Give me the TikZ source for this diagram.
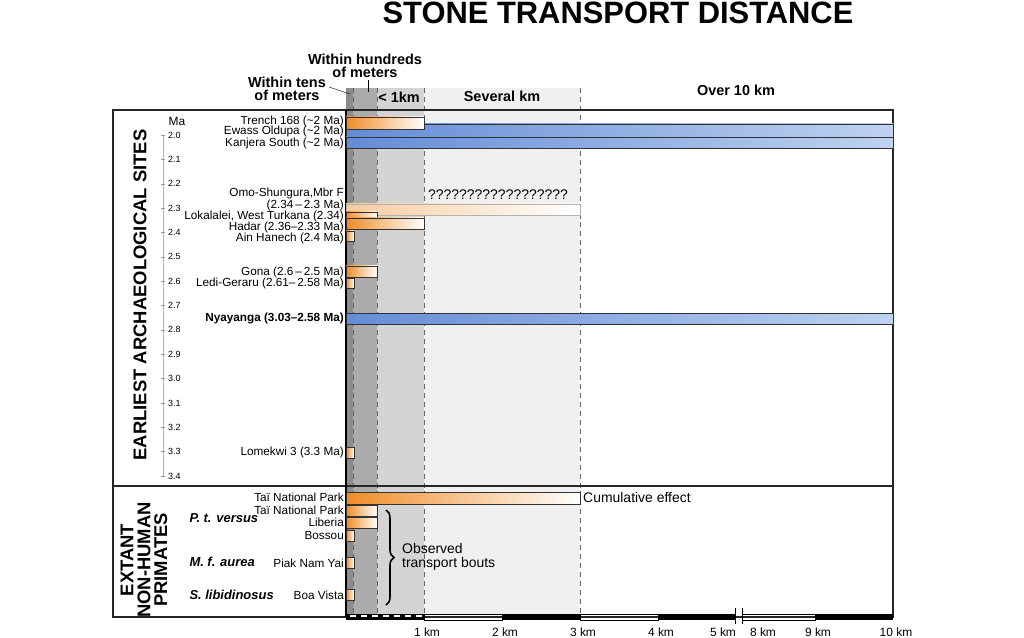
\documentclass[tikz,border=0pt]{standalone}
\usepackage{fontspec}
\setmainfont{Liberation Sans}
\usetikzlibrary{decorations.pathreplacing}
\definecolor{og}{RGB}{240,140,40}
\definecolor{bl}{RGB}{100,140,215}
\definecolor{bll}{RGB}{190,210,240}
\tikzset{lbl/.style={anchor=east,inner sep=1pt,font=\fontsize{11.8}{12}\selectfont},
obar/.style={draw=black!80,line width=0.6pt,left color=og,right color=white},
bbar/.style={draw=black!80,line width=0.6pt,left color=bl,right color=bll},
hdr/.style={font=\bfseries\fontsize{14.5}{13}\selectfont,align=center,inner sep=0pt},
tk/.style={font=\fontsize{9}{9}\selectfont,anchor=west,inner sep=1pt},
dl/.style={dashed,black!60,dash pattern=on 5pt off 4pt}}
\begin{document}
\begin{tikzpicture}[x=1bp,y=-1bp]
\useasboundingbox (0,0) rectangle (1024,638);
% zones
\fill[black!6] (424,88) rectangle (580,614);
\fill[black!17] (377,88) rectangle (424,614);
\fill[black!33] (346,88) rectangle (377,614);
\fill[black!45] (346,88) rectangle (353,614);
\foreach \x in {353,377,424,580} \draw[dl] (\x,88) -- (\x,614);
% frame
\draw[line width=1.2pt,black!85] (113,110) -- (893,110) -- (893,617) -- (113,617) -- cycle;
\draw[line width=1.2pt,black!85] (113,486) -- (893,486);
\draw[line width=1.2pt] (346,110) -- (346,617);
% title and headers
\node[font=\bfseries\fontsize{31}{31}\selectfont] (title) at (618,13) {STONE TRANSPORT DISTANCE};
\node[hdr,anchor=east] (tens) at (326,89) {Within tens\\of meters};
\node[hdr] (hund) at (365,66) {Within hundreds\\of meters};
\coordinate (t1) at (350,94); \coordinate (h1) at (368,92);
\draw (tens.east) ++(3,-2) -- (t1);
\draw (hund.south) ++(3,2) -- (h1);
\node[hdr] (k1) at (399,97) {< 1km};
\node[hdr] (sk) at (502,96) {Several km};
\node[hdr] (ok) at (736,90) {Over 10 km};
% Ma axis
\draw[black!30] (163,135) -- (163,476);
\node[font=\fontsize{12}{12}\selectfont] (ma) at (177,121) {Ma};
\foreach \lab [count=\i from 0] in {2.0,2.1,2.2,2.3,2.4,2.5,2.6,2.7,2.8,2.9,3.0,3.1,3.2,3.3,3.4}{
 \pgfmathsetmacro\yy{135+24.36*\i}
 \draw[black!40] (161,\yy) -- (165,\yy);
 \node[tk] at (167,\yy) {\lab};}
\node[rotate=90,font=\bfseries\fontsize{18.5}{18}\selectfont] (eas) at (140,295) {EARLIEST ARCHAEOLOGICAL SITES};
\node[rotate=90,font=\bfseries\fontsize{18.5}{17}\selectfont,align=center] (enh) at (144,560) {EXTANT\\NON-HUMAN\\PRIMATES};
% bars
\draw[bbar] (346,124) rectangle (893,136);
\draw[bbar] (346,137) rectangle (893,148);
\draw[obar] (346,117) rectangle (424,129);
\draw[draw=black!30,left color=og!45,right color=white] (346,204) rectangle (580,215);
\draw[obar] (346,212) rectangle (377,222);
\draw[obar] (346,218) rectangle (424,229);
\draw[obar] (346,231) rectangle (354,241);
\draw[obar] (346,266) rectangle (377,277);
\draw[obar] (346,278) rectangle (354,288);
\draw[bbar] (346,313) rectangle (893,324);
\draw[obar] (346,447) rectangle (354,458);
\draw[obar] (346,492) rectangle (580,504);
\draw[obar] (346,505) rectangle (377,516);
\draw[obar] (346,517) rectangle (377,528);
\draw[obar] (346,530) rectangle (354,541);
\draw[obar] (346,557) rectangle (354,568);
\draw[obar] (346,589) rectangle (354,600);
% labels
\node[lbl] (l1) at (345,121) {Trench 168 (\textasciitilde2 Ma)};
\node[lbl] (l2) at (345,131) {Ewass Oldupa (\textasciitilde2 Ma)};
\node[lbl] (l3) at (345,143) {Kanjera South (\textasciitilde2 Ma)};
\node[lbl] (l4) at (345,193) {Omo-Shungura,Mbr F};
\node[lbl] (l5) at (345,205) {(2.34\,–\,2.3 Ma)};
\node[lbl] (l6) at (345,216) {Lokalalei, West Turkana (2.34)};
\node[lbl] (l7) at (345,227) {Hadar (2.36–2.33 Ma)};
\node[lbl] (l8) at (345,238) {Ain Hanech (2.4 Ma)};
\node[lbl] (l9) at (345,272) {Gona (2.6\,–\,2.5 Ma)};
\node[lbl] (l10) at (345,283) {Ledi-Geraru (2.61–\,2.58 Ma)};
\node[lbl,font=\bfseries\fontsize{11.8}{12}\selectfont] (l11) at (345,318) {Nyayanga (3.03–2.58 Ma)};
\node[lbl] (l12) at (345,452) {Lomekwi 3 (3.3 Ma)};
\node[font=\fontsize{14}{14}\selectfont,anchor=west,inner sep=0pt] (qq) at (428,195) {??????????????????};
\node[lbl] (p1) at (345,497) {Taï National Park};
\node[lbl] (p2) at (345,510) {Taï National Park};
\node[lbl] (p3) at (345,522) {Liberia};
\node[lbl] (p4) at (345,536) {Bossou};
\node[lbl] (p5) at (345,563) {Piak Nam Yai};
\node[lbl] (p6) at (345,595) {Boa Vista};
\node[anchor=west,font=\bfseries\itshape\fontsize{13}{13}\selectfont] (s1) at (186,518) {P. t. versus};
\node[anchor=west,font=\bfseries\itshape\fontsize{13}{13}\selectfont] (s2) at (186,562) {M. f. aurea};
\node[anchor=west,font=\bfseries\itshape\fontsize{13}{13}\selectfont] (s3) at (186,595) {S. libidinosus};
\node[anchor=west,inner sep=1pt,font=\fontsize{14}{14}\selectfont] (cum) at (582,498) {Cumulative effect};
\coordinate (b1) at (386,510); \coordinate (b2) at (386,605);
\draw[line width=1.6pt,decorate,decoration={brace,amplitude=8pt}] (b1) -- (b2);
\node[anchor=west,align=left,font=\fontsize{14}{14}\selectfont,inner sep=0pt] (obs) at (402,557) {Observed\\transport bouts};
% scale bar
\fill (346,614) rectangle (424,620);
\draw[white,line width=1.2pt,dash pattern=on 6pt off 5pt] (350,616) -- (424,616);
\draw[line width=0.6pt] (424,614) rectangle (502,620);
\fill (502,614) rectangle (580,620);
\draw[line width=0.6pt] (580,614) rectangle (658,620);
\fill (658,614) rectangle (735,620);
\draw[line width=0.6pt] (742,614) rectangle (815,620);
\fill (815,614) rectangle (893,620);
\draw (735,608) -- (735,624); \draw (742,608) -- (742,624);
\foreach \x/\t in {424/1 km,502/2 km,580/3 km,658/4 km,720/5 km,760/8 km,815/9 km,893/10 km}
 \node[font=\fontsize{12}{12}\selectfont] at (\x+3,632) {\t};
\end{tikzpicture}
\end{document}
